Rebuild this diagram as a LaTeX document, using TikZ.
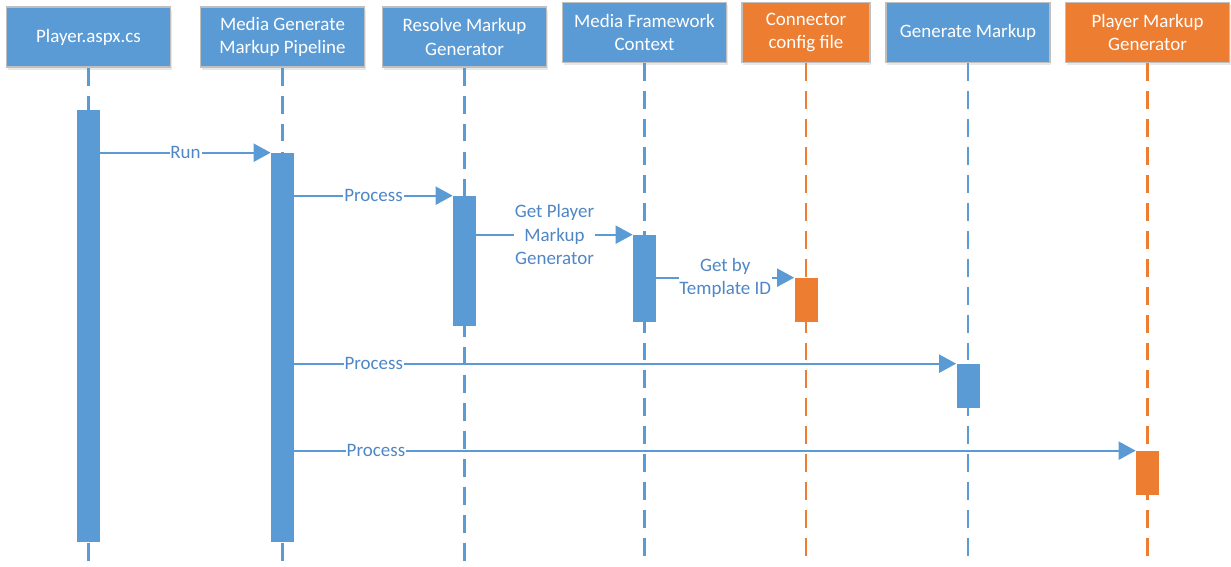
\documentclass[tikz,border=0pt]{standalone}
\usepackage{fontspec}
\setmainfont{Carlito}
\usetikzlibrary{arrows.meta,shadows}

\definecolor{msblue}{HTML}{5B9BD5}
\definecolor{msorange}{HTML}{ED7D31}
\definecolor{msline}{HTML}{4F87C6}

\tikzset{
  head/.style={draw=black!25, line width=0.8pt, fill=msblue, text=white,
    minimum width=3.28cm, minimum height=1.2cm, align=center, inner sep=2pt,
    font=\fontsize{10.8}{13.2}\selectfont,
    drop shadow={opacity=0.18, shadow xshift=0.6pt, shadow yshift=-1.6pt}},
  life/.style={msblue, line width=1.25pt, dash pattern=on 10.2pt off 5.7pt},
  bar/.style={fill=msblue, minimum width=0.46cm, inner sep=0pt},
  msg/.style={msblue, line width=1.2pt, -{Triangle[length=0.34cm, width=0.36cm]}},
  lbl/.style={fill=white, text=msline, inner sep=0.5pt, align=center,
    font=\fontsize{10.8}{13.2}\selectfont}
}

\begin{document}
\begin{tikzpicture}[x=0.02cm, y=-0.02cm]
  \useasboundingbox (0,0) rectangle (1231,566);

  % heads
  \node[head] (player) at (88.5,37) {Player.aspx.cs};
  \node[head] (pipe) at (282.5,37) {Media Generate\\Markup Pipeline};
  \node[head] (resolve) at (464.5,37) {Resolve Markup\\Generator};
  \node[head] (ctx) at (644.5,32.5) {Media Framework\\Context};
  \node[head, fill=msorange, minimum width=2.56cm] (conf) at (806,32.5) {Connector\\config file};
  \node[head] (gen) at (968,32.5) {Generate Markup};
  \node[head, fill=msorange] (pmg) at (1147.5,32.5) {Player Markup\\Generator};

  % lifelines
  \coordinate (playerEnd) at (player.south |- 0,566);
  \coordinate (pipeEnd) at (pipe.south |- 0,566);
  \coordinate (resolveEnd) at (resolve.south |- 0,566);
  \coordinate (ctxEnd) at (ctx.south |- 0,566);
  \coordinate (confEnd) at (conf.south |- 0,566);
  \coordinate (genEnd) at (gen.south |- 0,566);
  \coordinate (pmgEnd) at (pmg.south |- 0,566);
  \draw[life] (player.south) -- (playerEnd);
  \draw[life] (pipe.south) -- (pipeEnd);
  \draw[life] (resolve.south) -- (resolveEnd);
  \draw[life] (ctx.south) -- (ctxEnd);
  \draw[life, msorange] (conf.south) -- (confEnd);
  \draw[life] (gen.south) -- (genEnd);
  \draw[life, msorange] (pmg.south) -- (pmgEnd);

  % activation bars
  \node[bar, minimum height=8.64cm] (playerBar) at (88.5,326) {};
  \node[bar, minimum height=7.78cm] (pipeBar) at (282.5,347.5) {};
  \node[bar, minimum height=2.6cm] (resolveBar) at (464.5,261) {};
  \node[bar, minimum height=1.74cm] (ctxBar) at (644.5,278.5) {};
  \node[bar, fill=msorange, minimum height=0.88cm] (confBar) at (806,300) {};
  \node[bar, minimum height=0.88cm] (genBar) at (968,386) {};
  \node[bar, fill=msorange, minimum height=0.88cm] (pmgBar) at (1147.5,473) {};

  % messages
  \draw[msg] (playerBar.east |- pipeBar.north west) -- node[lbl] {Run} (pipeBar.north west);
  \draw[msg] (pipeBar.east |- resolveBar.north west) -- node[lbl] {Process} (resolveBar.north west);
  \draw[msg] (resolveBar.east |- ctxBar.north west) -- node[lbl] {Get Player\\Markup\\Generator} (ctxBar.north west);
  \draw[msg] (ctxBar.east |- confBar.north west) -- node[lbl] {Get by\\Template ID} (confBar.north west);
  \draw[msg] (pipeBar.east |- genBar.north west) -- node[lbl, pos=0.12] {Process} (genBar.north west);
  \draw[msg] (pipeBar.east |- pmgBar.north west) -- node[lbl, pos=0.097] {Process} (pmgBar.north west);
\end{tikzpicture}
\end{document}
